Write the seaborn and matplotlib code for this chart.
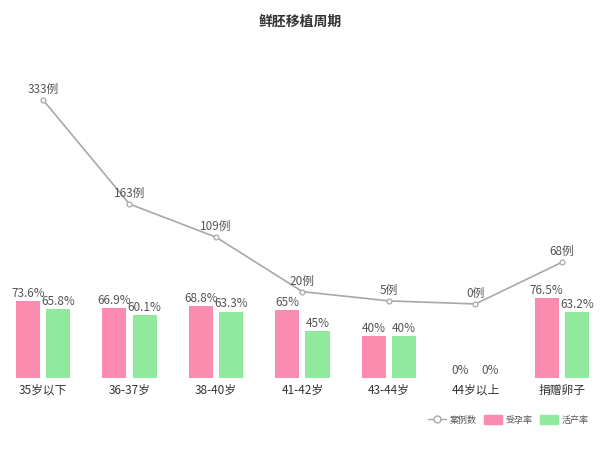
import numpy as np
import pandas as pd
import matplotlib
matplotlib.use("Agg")
import matplotlib.pyplot as plt
import seaborn as sns
from matplotlib.lines import Line2D
from matplotlib.patches import Patch

sns.set_style("white")
plt.rcParams['font.family'] = ['Noto Sans CJK SC', 'DejaVu Sans']

categories = ["35岁以下", "36-37岁", "38-40岁", "41-42岁", "43-44岁", "44岁以上", "捐赠卵子"]
pregnancy_rate = [73.6, 66.9, 68.8, 65, 40, 0, 76.5]
live_birth_rate = [65.8, 60.1, 63.3, 45, 40, 0, 63.2]
case_counts = [333, 163, 109, 20, 5, 0, 68]
series_names = ["受孕率", "活产率"]
line_name = "案例数"
title = "鲜胚移植周期"

pink = "#fb8cb0"
green = "#90ea9e"
gray = "#a8a8a8"

df = pd.DataFrame({
    "cat": categories * 2,
    "val": pregnancy_rate + live_birth_rate,
    "series": [series_names[0]] * len(categories) + [series_names[1]] * len(categories),
})

fig = plt.figure(figsize=(6, 4.5), dpi=100)
ax = fig.add_axes([0, 72 / 450, 1, 318 / 450])

sns.barplot(data=df, x="cat", y="val", hue="series", order=categories,
            hue_order=series_names, palette=[pink, green], width=0.7, gap=0.2,
            saturation=1, ax=ax, legend=False, linewidth=0)

for cont in ax.containers:
    ax.bar_label(cont, labels=[f"{v:g}%" for v in cont.datavalues],
                 padding=1, fontsize=8.5, color="#555555")

ax.set_xlim(-0.497, 6.44)
ax.set_ylim(0, 304)
ax.set_xlabel("")
ax.set_ylabel("")
ax.set_yticks([])
ax.tick_params(axis="x", length=0, pad=4, labelsize=8.5, labelcolor="#333333")
for s in ax.spines.values():
    s.set_visible(False)

ax2 = ax.twinx()
xs = np.arange(len(categories))
sns.lineplot(x=xs, y=case_counts, ax=ax2, color=gray, linewidth=1.2,
             marker="o", markersize=3.5, markerfacecolor="white",
             markeredgecolor=gray, markeredgewidth=0.9)
for x, v in zip(xs, case_counts):
    ax2.annotate(f"{v}例", (x, v), xytext=(0, 3), textcoords="offset points",
                 ha="center", va="bottom", fontsize=8.5, color="#555555")
ax2.set_ylim(-120.8, 398)
ax2.set_yticks([])
ax2.set_ylabel("")
for s in ax2.spines.values():
    s.set_visible(False)
ax2.set_xlim(-0.497, 6.44)

fig.text(0.5, 1 - 22 / 450, title, ha="center", va="center",
         fontsize=10, fontweight="bold", color="#333333")

handles = [
    Line2D([0], [0], color=gray, marker="o", markersize=5, markerfacecolor="white",
           markeredgecolor=gray, linewidth=1),
    Patch(facecolor=pink, edgecolor=pink),
    Patch(facecolor=green, edgecolor=green),
]
fig.legend(handles, [line_name] + series_names, loc="center right",
           bbox_to_anchor=(0.995, 1 - 420 / 450), ncol=3, frameon=False,
           fontsize=6.5, handlelength=2.0, handleheight=1.0, columnspacing=0.8,
           handletextpad=0.4, labelcolor="#555555")

fig.savefig("out.png", dpi=100)
